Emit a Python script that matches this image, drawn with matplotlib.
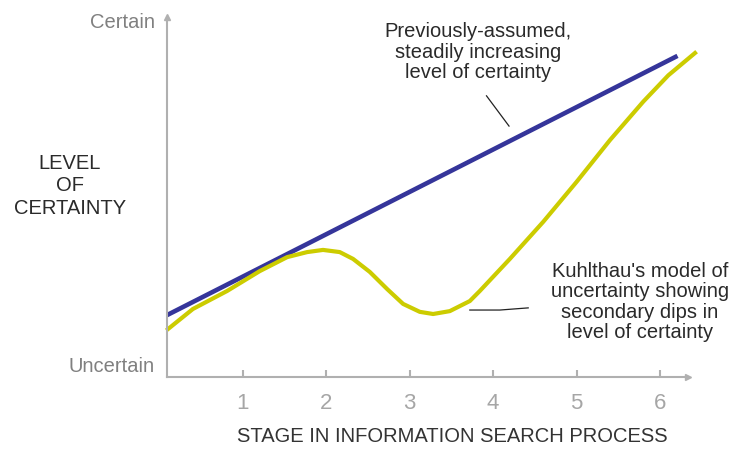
import matplotlib.pyplot as plt

plt.rcParams['font.family'] = ['Liberation Sans', 'DejaVu Sans']

# stages (x) and level of certainty (0 = uncertain, 100 = certain)
stages = [1, 2, 3, 4, 5, 6]
assumed_x = [0.09, 6.21]
assumed_y = [17.2, 89.2]
kuhlthau_x = [0.10, 0.40, 0.81, 1.20, 1.53, 1.77, 1.96, 2.16, 2.32, 2.52, 2.73,
              2.92, 3.12, 3.28, 3.48, 3.72, 3.84, 4.20, 4.60, 5.00, 5.40, 5.80,
              6.10, 6.42]
kuhlthau_y = [13.3, 18.9, 23.9, 29.4, 33.3, 34.7, 35.3, 34.7, 32.8, 29.2, 24.4,
              20.3, 18.1, 17.5, 18.3, 21.1, 23.9, 32.8, 43.1, 54.2, 65.8, 76.5,
              83.8, 90.0]

W, H = 732, 452


def px(x, y):
    # pixel position (from top-left) -> figure fraction
    return x / W, 1 - y / H


fig = plt.figure(figsize=(W / 100, H / 100), dpi=100)
ax = fig.add_axes([167/W, 1-378/H, (688-167)/W, (378-18)/H])
ax.set_xlim(0.089, 6.336)
ax.set_ylim(0, 100)

axis_col = '#b0b0b0'
for s in ['top', 'right']:
    ax.spines[s].set_visible(False)
for s in ['left', 'bottom']:
    ax.spines[s].set_color(axis_col)
    ax.spines[s].set_linewidth(1.5)

# arrow heads on the axes
ax.plot(1, 0, '>', color=axis_col, ms=5, transform=ax.transAxes, clip_on=False)
ax.plot(0, 1, '^', color=axis_col, ms=5, transform=ax.transAxes, clip_on=False)

ax.set_xticks(stages)
ax.set_xticklabels([str(s) for s in stages])
ax.tick_params(axis='x', direction='in', length=5, width=1.5, color=axis_col,
               labelcolor='#a6a6a6', labelsize=16, pad=11)
ax.set_yticks([])

ax.plot(assumed_x, assumed_y, color='#35359a', lw=3.3, clip_on=False,
        solid_capstyle='butt')
ax.plot(kuhlthau_x, kuhlthau_y, color='#cccc00', lw=3.0, clip_on=False,
        solid_joinstyle='round')

# pointer lines
ax.plot([3.92, 4.19], [78.1, 69.7], color='#222222', lw=0.9, clip_on=False)
ax.plot([3.72, 4.08, 4.42], [18.6, 18.6, 19.2], color='#222222', lw=0.9,
        clip_on=False)

grey = '#808080'
dark = '#2a2a2a'
fig.text(*px(155, 23), 'Certain', ha='right', va='center', color=grey,
         fontsize=14.5)
fig.text(*px(155, 367), 'Uncertain', ha='right', va='center', color=grey,
         fontsize=14.5)
fig.text(*px(70, 186), 'LEVEL\nOF\nCERTAINTY', ha='center', va='center',
         color=dark, fontsize=14.5, linespacing=1.22)
fig.text(*px(478, 52), 'Previously-assumed,\nsteadily increasing\nlevel of certainty',
         ha='center', va='center', color=dark, fontsize=14.5, linespacing=1.07)
fig.text(*px(640, 302), "Kuhlthau's model of\nuncertainty showing\nsecondary dips in\nlevel of certainty",
         ha='center', va='center', color=dark, fontsize=14.5, linespacing=1.08)
fig.text(*px(452, 437), 'STAGE IN INFORMATION SEARCH PROCESS', ha='center',
         va='center', color='#333333', fontsize=14.5)

fig.savefig('out.png', dpi=100)
